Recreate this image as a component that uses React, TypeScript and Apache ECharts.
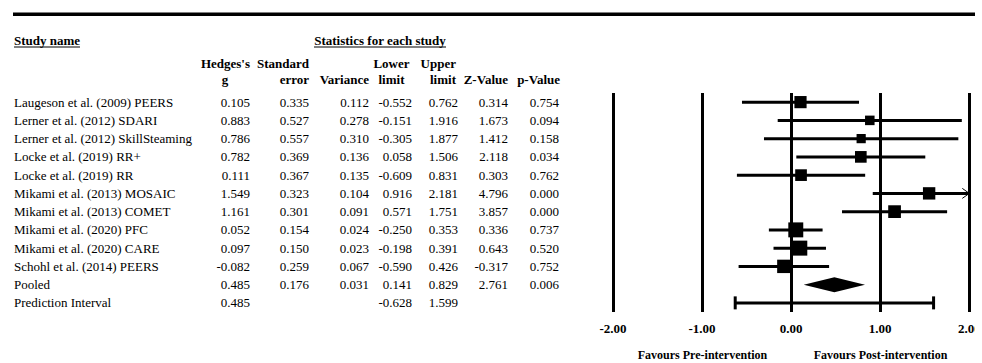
import React, { useEffect, useRef } from "react";
import * as echarts from "echarts";

const studyNames = [
  "Laugeson et al. (2009) PEERS",
  "Lerner et al. (2012) SDARI",
  "Lerner et al. (2012) SkillSteaming",
  "Locke et al. (2019) RR+",
  "Locke et al. (2019) RR",
  "Mikami et al. (2013) MOSAIC",
  "Mikami et al. (2013) COMET",
  "Mikami et al. (2020) PFC",
  "Mikami et al. (2020) CARE",
  "Schohl et al. (2014) PEERS",
];
const hedgesG = [0.105, 0.883, 0.786, 0.782, 0.111, 1.549, 1.161, 0.052, 0.097, -0.082];
const stdError = [0.335, 0.527, 0.557, 0.369, 0.367, 0.323, 0.301, 0.154, 0.15, 0.259];
const variance = [0.112, 0.278, 0.31, 0.136, 0.135, 0.104, 0.091, 0.024, 0.023, 0.067];
const lowerLimit = [-0.552, -0.151, -0.305, 0.058, -0.609, 0.916, 0.571, -0.25, -0.198, -0.59];
const upperLimit = [0.762, 1.916, 1.877, 1.506, 0.831, 2.181, 1.751, 0.353, 0.391, 0.426];
const zValue = [0.314, 1.673, 1.412, 2.118, 0.303, 4.796, 3.857, 0.336, 0.643, -0.317];
const pValue = [0.754, 0.094, 0.158, 0.034, 0.762, 0.0, 0.0, 0.737, 0.52, 0.752];

const pooledStats = { g: 0.485, se: 0.176, v: 0.031, lo: 0.141, hi: 0.829, z: 2.761, p: 0.006 };
const predictionStats = { g: 0.485, lo: -0.628, hi: 1.599 };

const xTicks = [-2, -1, 0, 1, 2];

const FONT = "'Liberation Serif', 'DejaVu Serif', serif";
const X_MIN = xTicks[0];
const X_MAX = xTicks[xTicks.length - 1];
const TAU2 = 0.15;
const SQUARE_MAX = 15;

const f3 = (v: number) => v.toFixed(3);

const rowNames = [...studyNames, "Pooled", "Prediction Interval"];
const colG = [...hedgesG.map(f3), f3(pooledStats.g), f3(predictionStats.g)];
const colSE = [...stdError.map(f3), f3(pooledStats.se), ""];
const colVar = [...variance.map(f3), f3(pooledStats.v), ""];
const colLo = [...lowerLimit.map(f3), f3(pooledStats.lo), f3(predictionStats.lo)];
const colHi = [...upperLimit.map(f3), f3(pooledStats.hi), f3(predictionStats.hi)];
const colZ = [...zValue.map(f3), f3(pooledStats.z), ""];
const colP = [...pValue.map(f3), f3(pooledStats.p), ""];

const GRID_LEFT = 613;
const CHART_W = 1000;
const GRID_RIGHT_X = 969.3;

function tableAxis(data: string[], rightX: number, align: "left" | "right" = "right") {
  return {
    type: "category",
    data,
    inverse: true,
    gridIndex: 0,
    position: "left",
    offset: GRID_LEFT - rightX,
    axisLine: { show: false },
    axisTick: { show: false },
    splitLine: { show: false },
    axisLabel: {
      margin: 0,
      interval: 0,
      align,
      color: "#000",
      fontFamily: FONT,
      fontSize: 13,
    },
  };
}

function headerText(text: string, x: number, y: number, align: string, bold = true, size = 13) {
  return {
    type: "text",
    style: {
      text,
      x,
      y,
      textAlign: align,
      textVerticalAlign: "middle",
      fill: "#000",
      fontFamily: FONT,
      fontSize: size,
      fontWeight: bold ? "bold" : "normal",
    },
  };
}

export default function App() {
  const ref = useRef<HTMLDivElement>(null);
  useEffect(() => {
    if (!ref.current) return;
    const chart = echarts.init(ref.current, null, { renderer: "svg" });
    const minVar = Math.min(...variance);

    const studyData = studyNames.map((_, i) => [i, hedgesG[i], lowerLimit[i], upperLimit[i], variance[i]]);

    const option: any = {
      animation: false,
      backgroundColor: "#fff",
      grid: {
        left: GRID_LEFT,
        right: CHART_W - GRID_RIGHT_X,
        top: 93,
        bottom: 51,
        containLabel: false,
      },
      xAxis: {
        type: "value",
        min: X_MIN,
        max: X_MAX,
        interval: 1,
        axisLine: { show: false },
        axisTick: { show: false },
        splitLine: { show: true, lineStyle: { color: "#000", width: 3 } },
        axisLabel: {
          margin: 10,
          color: "#000",
          fontFamily: FONT,
          fontSize: 13,
          fontWeight: "bold",
          formatter: (v: number) => v.toFixed(2),
        },
      },
      yAxis: [
        {
          type: "category",
          data: rowNames,
          inverse: true,
          gridIndex: 0,
          axisLine: { show: false },
          axisTick: { show: false },
          splitLine: { show: false },
          axisLabel: { show: false },
        },
        tableAxis(rowNames, 14, "left"),
        tableAxis(colG, 250),
        tableAxis(colSE, 309),
        tableAxis(colVar, 369),
        tableAxis(colLo, 412),
        tableAxis(colHi, 458),
        tableAxis(colZ, 508),
        tableAxis(colP, 559),
      ],
      series: [
        {
          type: "custom",
          clip: false,
          encode: { x: [1, 2, 3], y: 0 },
          data: studyData,
          renderItem: (_p: any, api: any) => {
            const y = api.value(0);
            const g = api.value(1);
            const lo = api.value(2);
            const hi = api.value(3);
            const v = api.value(4);
            const hiC = Math.min(hi, X_MAX);
            const pLo = api.coord([Math.max(lo, X_MIN), y]);
            const pHi = api.coord([hiC, y]);
            const pG = api.coord([g, y]);
            const s = SQUARE_MAX * Math.sqrt((minVar + TAU2) / (v + TAU2));
            const children: any[] = [
              {
                type: "line",
                shape: { x1: pLo[0], y1: pLo[1], x2: pHi[0], y2: pHi[1] },
                style: { stroke: "#000", lineWidth: 3 },
              },
              {
                type: "rect",
                shape: { x: pG[0] - s / 2, y: pG[1] - s / 2, width: s, height: s },
                style: { fill: "#000" },
              },
            ];
            if (hi > X_MAX) {
              children.push({
                type: "polyline",
                shape: {
                  points: [
                    [pHi[0] - 7, pHi[1] - 5],
                    [pHi[0], pHi[1]],
                    [pHi[0] - 7, pHi[1] + 5],
                  ],
                },
                style: { stroke: "#000", lineWidth: 1, fill: "none" },
              });
            }
            return { type: "group", children };
          },
        },
        {
          type: "custom",
          clip: false,
          encode: { x: [1, 2, 3], y: 0 },
          data: [[studyNames.length, pooledStats.g, pooledStats.lo, pooledStats.hi]],
          renderItem: (_p: any, api: any) => {
            const y = api.value(0);
            const pG = api.coord([api.value(1), y]);
            const pLo = api.coord([api.value(2), y]);
            const pHi = api.coord([api.value(3), y]);
            const h = 7.5;
            return {
              type: "polygon",
              shape: {
                points: [
                  [pLo[0], pLo[1]],
                  [pG[0], pG[1] - h],
                  [pHi[0], pHi[1]],
                  [pG[0], pG[1] + h],
                ],
              },
              style: { fill: "#000" },
            };
          },
        },
        {
          type: "custom",
          clip: false,
          encode: { x: [1, 2, 3], y: 0 },
          data: [[studyNames.length + 1, predictionStats.g, predictionStats.lo, predictionStats.hi]],
          renderItem: (_p: any, api: any) => {
            const y = api.value(0);
            const pLo = api.coord([api.value(2), y]);
            const pHi = api.coord([api.value(3), y]);
            const c = 6.5;
            return {
              type: "group",
              children: [
                {
                  type: "line",
                  shape: { x1: pLo[0], y1: pLo[1], x2: pHi[0], y2: pHi[1] },
                  style: { stroke: "#000", lineWidth: 3 },
                },
                {
                  type: "line",
                  shape: { x1: pLo[0], y1: pLo[1] - c, x2: pLo[0], y2: pLo[1] + c },
                  style: { stroke: "#000", lineWidth: 3 },
                },
                {
                  type: "line",
                  shape: { x1: pHi[0], y1: pHi[1] - c, x2: pHi[0], y2: pHi[1] + c },
                  style: { stroke: "#000", lineWidth: 3 },
                },
              ],
            };
          },
        },
      ],
      graphic: [
        {
          type: "rect",
          shape: { x: 13, y: 12.5, width: 970, height: 3.5 },
          style: { fill: "#000" },
        },
        headerText("Study name", 14, 40, "left"),
        { type: "line", shape: { x1: 14, y1: 47, x2: 80, y2: 47 }, style: { stroke: "#000", lineWidth: 1 } },
        headerText("Statistics for each study", 380, 40, "center"),
        { type: "line", shape: { x1: 314, y1: 47, x2: 446, y2: 47 }, style: { stroke: "#000", lineWidth: 1 } },
        headerText("Hedges's", 250, 63, "right"),
        headerText("g", 225, 79, "center"),
        headerText("Standard", 309, 63, "right"),
        headerText("error", 309, 79, "right"),
        headerText("Variance", 369, 79, "right"),
        headerText("Lower", 391.5, 63, "center"),
        headerText("limit", 391.5, 79, "center"),
        headerText("Upper", 456, 63, "right"),
        headerText("limit", 456, 79, "right"),
        headerText("Z-Value", 508, 79, "right"),
        headerText("p-Value", 560, 79, "right"),
        headerText("Favours Pre-intervention", 702.5, 355, "center", true, 12),
        headerText("Favours Post-intervention", 880.5, 355, "center", true, 12),
      ],
    };
    chart.setOption(option);
    return () => chart.dispose();
  }, []);
  return (
    <div
      style={{
        position: "fixed",
        left: 0,
        top: 0,
        width: 975,
        height: 363,
        overflow: "hidden",
        background: "#fff",
      }}
    >
      <div ref={ref} style={{ width: CHART_W, height: 363 }} />
    </div>
  );
}
